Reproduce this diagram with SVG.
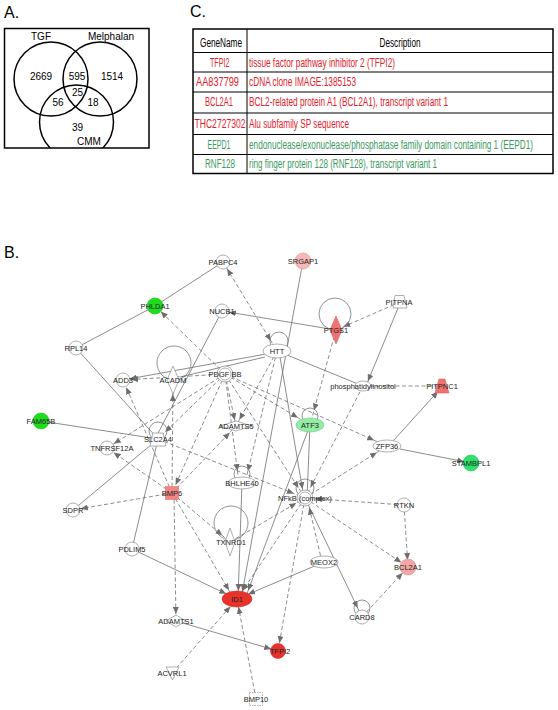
<svg xmlns="http://www.w3.org/2000/svg" width="558" height="710" viewBox="0 0 558 710">
<defs>
<style>
.pl{font-family:"Liberation Sans",Arial,sans-serif;font-size:16px;fill:#000}
.vt{font-family:"Liberation Sans",Arial,sans-serif;font-size:10px;fill:#000;text-anchor:middle}
.vc{fill:none;stroke:#000;stroke-width:1.5}
.th{font-family:"Liberation Sans",Arial,sans-serif;font-size:12px;fill:#000}
.tr{font-family:"Liberation Sans",Arial,sans-serif;font-size:12px;fill:#e4212b}
.tg{font-family:"Liberation Sans",Arial,sans-serif;font-size:12px;fill:#3a9a5c}
.tl{stroke:#000;stroke-width:1}
.s{stroke:#6e6e6e;stroke-width:0.8;fill:none}
.d{stroke:#6e6e6e;stroke-width:0.8;fill:none;stroke-dasharray:4,2.5}
.lp{fill:none;stroke:#777;stroke-width:0.8}
.n{fill:#fff;stroke:#9a9a9a;stroke-width:0.8}
.nl{font-family:"Liberation Sans",Arial,sans-serif;font-size:7.5px;fill:#222;text-anchor:middle}
</style>
<clipPath id="vbox"><rect x="4.5" y="28.5" width="144.5" height="119.5"/></clipPath>
<marker id="a5" markerUnits="userSpaceOnUse" markerWidth="7" markerHeight="6" refX="12" refY="3" orient="auto-start-reverse"><path d="M0,0L7,3L0,6z" fill="#6e6e6e"/></marker>
<marker id="a6" markerUnits="userSpaceOnUse" markerWidth="7" markerHeight="6" refX="13" refY="3" orient="auto-start-reverse"><path d="M0,0L7,3L0,6z" fill="#6e6e6e"/></marker>
<marker id="a7" markerUnits="userSpaceOnUse" markerWidth="7" markerHeight="6" refX="14" refY="3" orient="auto-start-reverse"><path d="M0,0L7,3L0,6z" fill="#6e6e6e"/></marker>
<marker id="a8" markerUnits="userSpaceOnUse" markerWidth="7" markerHeight="6" refX="15" refY="3" orient="auto-start-reverse"><path d="M0,0L7,3L0,6z" fill="#6e6e6e"/></marker>
<marker id="a9" markerUnits="userSpaceOnUse" markerWidth="7" markerHeight="6" refX="16" refY="3" orient="auto-start-reverse"><path d="M0,0L7,3L0,6z" fill="#6e6e6e"/></marker>
<marker id="a10" markerUnits="userSpaceOnUse" markerWidth="7" markerHeight="6" refX="17" refY="3" orient="auto-start-reverse"><path d="M0,0L7,3L0,6z" fill="#6e6e6e"/></marker>
<marker id="a12" markerUnits="userSpaceOnUse" markerWidth="7" markerHeight="6" refX="19" refY="3" orient="auto-start-reverse"><path d="M0,0L7,3L0,6z" fill="#6e6e6e"/></marker>
<marker id="a14" markerUnits="userSpaceOnUse" markerWidth="7" markerHeight="6" refX="21" refY="3" orient="auto-start-reverse"><path d="M0,0L7,3L0,6z" fill="#6e6e6e"/></marker>
<marker id="a15" markerUnits="userSpaceOnUse" markerWidth="7" markerHeight="6" refX="22" refY="3" orient="auto-start-reverse"><path d="M0,0L7,3L0,6z" fill="#6e6e6e"/></marker>
</defs>
<rect width="558" height="710" fill="#fff"/>

<!-- Panel A -->
<g id="panelA">
<text class="pl" x="4" y="18">A.</text>
<g clip-path="url(#vbox)">
<circle class="vc" cx="51" cy="79" r="37"/>
<circle class="vc" cx="100" cy="79" r="37"/>
<circle class="vc" cx="76.5" cy="122" r="37"/>
</g>
<rect x="4.5" y="28.5" width="144.5" height="119.5" fill="none" stroke="#000" stroke-width="1.5"/>
<text class="vt" x="41" y="40">TGF</text>
<text class="vt" x="111" y="40">Melphalan</text>
<text class="vt" x="41" y="80">2669</text>
<text class="vt" x="77" y="80">595</text>
<text class="vt" x="112" y="80">1514</text>
<text class="vt" x="77.5" y="96">25</text>
<text class="vt" x="58" y="106">56</text>
<text class="vt" x="93" y="106">18</text>
<text class="vt" x="77.5" y="131">39</text>
<text class="vt" x="89" y="145">CMM</text>
</g>

<!-- Panel C -->
<g id="panelC">
<text class="pl" x="190" y="17">C.</text>
<rect x="193" y="29" width="360" height="144.5" fill="none" stroke="#000" stroke-width="1.5"/>
<line class="tl" x1="247" y1="29" x2="247" y2="173.5"/>
<line class="tl" x1="193" y1="52.5" x2="553" y2="52.5"/>
<line class="tl" x1="193" y1="72" x2="553" y2="72"/>
<line class="tl" x1="193" y1="92" x2="553" y2="92"/>
<line class="tl" x1="193" y1="113" x2="553" y2="113"/>
<line class="tl" x1="193" y1="134.5" x2="553" y2="134.5"/>
<line class="tl" x1="193" y1="154.5" x2="553" y2="154.5"/>
<text class="th" x="200" y="46.5" textLength="42" lengthAdjust="spacingAndGlyphs">GeneName</text>
<text class="th" x="379.5" y="46.5" textLength="41" lengthAdjust="spacingAndGlyphs">Description</text>
<text class="tr" x="210" y="66.5" textLength="19.5" lengthAdjust="spacingAndGlyphs">TFPI2</text>
<text class="tr" x="249" y="66.5" textLength="146" lengthAdjust="spacingAndGlyphs">tissue factor pathway inhibitor 2 (TFPI2)</text>
<text class="tr" x="196" y="86" textLength="43" lengthAdjust="spacingAndGlyphs">AA837799</text>
<text class="tr" x="249" y="86" textLength="107" lengthAdjust="spacingAndGlyphs">cDNA clone IMAGE:1385153</text>
<text class="tr" x="205" y="106" textLength="28" lengthAdjust="spacingAndGlyphs">BCL2A1</text>
<text class="tr" x="249" y="106" textLength="199" lengthAdjust="spacingAndGlyphs">BCL2-related protein A1 (BCL2A1), transcript variant 1</text>
<text class="tr" x="194.5" y="128" textLength="51" lengthAdjust="spacingAndGlyphs">THC2727302</text>
<text class="tr" x="249" y="128" textLength="100" lengthAdjust="spacingAndGlyphs">Alu subfamily SP sequence</text>
<text class="tg" x="207.5" y="149" textLength="23" lengthAdjust="spacingAndGlyphs">EEPD1</text>
<text class="tg" x="249" y="149" textLength="284" lengthAdjust="spacingAndGlyphs">endonuclease/exonuclease/phosphatase family domain containing 1 (EEPD1)</text>
<text class="tg" x="205" y="168" textLength="30" lengthAdjust="spacingAndGlyphs">RNF128</text>
<text class="tg" x="249" y="168" textLength="188" lengthAdjust="spacingAndGlyphs">ring finger protein 128 (RNF128), transcript variant 1</text>
</g>

<text class="pl" x="4" y="258">B.</text>

<!-- Connectors -->
<g id="connectors">
<line class="s" x1="223" y1="262" x2="155" y2="306"/>
<line class="s" x1="155" y1="306" x2="76" y2="348"/>
<line class="s" x1="76" y1="348" x2="158" y2="439"/>
<line class="s" x1="222" y1="311" x2="156" y2="437"/>
<line class="s" x1="336" y1="330" x2="222" y2="311" marker-end="url(#a7)"/>
<line class="s" x1="303" y1="261" x2="241" y2="599" marker-end="url(#a8)"/>
<line class="s" x1="266" y1="354" x2="123" y2="380" marker-end="url(#a7)"/>
<line class="s" x1="265" y1="357" x2="180" y2="377"/>
<line class="s" x1="287" y1="355" x2="363" y2="386"/>
<line class="s" x1="280" y1="357" x2="304" y2="498" marker-end="url(#a9)"/>
<line class="s" x1="398" y1="308" x2="366" y2="386" marker-end="url(#a5)"/>
<line class="s" x1="393" y1="441" x2="442" y2="387" marker-end="url(#a6)"/>
<line class="s" x1="400" y1="449" x2="471" y2="463" marker-end="url(#a7)"/>
<line class="s" x1="41" y1="421" x2="158" y2="439"/>
<line class="s" x1="158" y1="439" x2="73" y2="510"/>
<line class="s" x1="158" y1="439" x2="132" y2="549"/>
<line class="s" x1="132" y1="549" x2="237" y2="599" marker-end="url(#a12)"/>
<line class="s" x1="310" y1="425" x2="307" y2="498"/>
<line class="s" x1="310" y1="425" x2="245" y2="599" marker-end="url(#a9)"/>
<line class="s" x1="242" y1="483" x2="238" y2="599" marker-end="url(#a8)"/>
<line class="s" x1="324" y1="562" x2="237" y2="599" marker-end="url(#a12)"/>
<line class="s" x1="176" y1="621" x2="278" y2="651" marker-end="url(#a7)"/>
<line class="s" x1="305" y1="498" x2="362" y2="617" marker-end="url(#a10)"/>

<line class="d" x1="223" y1="262" x2="277" y2="351" marker-start="url(#a8)" marker-end="url(#a12)"/>
<line class="d" x1="225" y1="374" x2="155" y2="306" marker-end="url(#a8)"/>
<line class="d" x1="225" y1="374" x2="123" y2="380" marker-end="url(#a8)"/>
<line class="d" x1="336" y1="330" x2="310" y2="425" marker-end="url(#a15)"/>
<line class="d" x1="400" y1="302" x2="336" y2="330" marker-end="url(#a8)"/>
<line class="d" x1="363" y1="386" x2="442" y2="386"/>
<line class="d" x1="363" y1="386" x2="305" y2="498" marker-end="url(#a12)"/>
<line class="d" x1="225" y1="374" x2="310" y2="425" marker-end="url(#a14)"/>
<line class="d" x1="225" y1="374" x2="387" y2="446" marker-end="url(#a14)"/>
<line class="d" x1="225" y1="374" x2="158" y2="439" marker-end="url(#a10)"/>
<line class="d" x1="225" y1="374" x2="172" y2="493" marker-end="url(#a9)"/>
<line class="d" x1="225" y1="374" x2="107" y2="448" marker-end="url(#a8)"/>
<line class="d" x1="225" y1="374" x2="236" y2="426" marker-end="url(#a6)"/>
<line class="d" x1="225" y1="374" x2="239" y2="483" marker-end="url(#a12)"/>
<line class="d" x1="225" y1="374" x2="305" y2="498" marker-end="url(#a12)"/>
<line class="d" x1="277" y1="351" x2="236" y2="426" marker-end="url(#a7)"/>
<line class="d" x1="277" y1="351" x2="245" y2="483" marker-end="url(#a12)"/>
<line class="d" x1="172" y1="493" x2="173" y2="380" marker-end="url(#a14)"/>
<line class="d" x1="174" y1="493" x2="176" y2="621" marker-end="url(#a7)"/>
<line class="d" x1="172" y1="493" x2="236" y2="426" marker-end="url(#a9)"/>
<line class="d" x1="172" y1="493" x2="107" y2="448" marker-end="url(#a8)"/>
<line class="d" x1="172" y1="493" x2="73" y2="510" marker-end="url(#a8)"/>
<line class="d" x1="172" y1="493" x2="230" y2="542" marker-end="url(#a10)"/>
<line class="d" x1="172" y1="493" x2="234" y2="599" marker-end="url(#a10)"/>
<line class="d" x1="172" y1="493" x2="123" y2="380" marker-end="url(#a8)"/>
<line class="d" x1="158" y1="439" x2="305" y2="498" marker-end="url(#a12)"/>
<line class="d" x1="305" y1="498" x2="387" y2="446" marker-end="url(#a12)"/>
<line class="d" x1="404" y1="505" x2="305" y2="498" marker-end="url(#a10)"/>
<line class="d" x1="404" y1="505" x2="408" y2="567" marker-end="url(#a7)"/>
<line class="d" x1="305" y1="498" x2="408" y2="567" marker-end="url(#a8)"/>
<line class="d" x1="305" y1="498" x2="278" y2="651" marker-end="url(#a8)"/>
<line class="d" x1="305" y1="498" x2="237" y2="599" marker-end="url(#a10)"/>
<line class="d" x1="322" y1="562" x2="307" y2="498" marker-end="url(#a10)"/>
<line class="d" x1="230" y1="542" x2="305" y2="498" marker-end="url(#a10)"/>
<line class="d" x1="362" y1="617" x2="408" y2="567" marker-end="url(#a8)"/>
<line class="d" x1="172" y1="673" x2="237" y2="599" marker-end="url(#a10)"/>
<line class="d" x1="256" y1="699" x2="237" y2="599" marker-end="url(#a8)"/>

<circle class="lp" cx="279" cy="341" r="9"/>
<circle class="lp" cx="335" cy="314" r="16"/>
<circle class="lp" cx="174" cy="363" r="17"/>
<circle class="lp" cx="158" cy="431" r="9"/>
<circle class="lp" cx="310" cy="416" r="8"/>
<circle class="lp" cx="242" cy="474" r="8"/>
<circle class="lp" cx="305" cy="488" r="9"/>
<circle class="lp" cx="231" cy="523" r="17"/>
<circle class="lp" cx="362" cy="608" r="8"/>
</g>

<!-- Nodes -->
<g id="PABPC4"><circle class="n" cx="223" cy="262" r="7"/><text class="nl" x="223" y="264.7">PABPC4</text></g>
<g id="SRGAP1"><circle cx="303" cy="261" r="8" fill="#f5b7b7" stroke="#e9a0a0" stroke-width="0.6"/><text class="nl" x="303" y="263.7">SRGAP1</text></g>
<g id="PHLDA1"><circle cx="155" cy="306" r="8" fill="#1edc1e" stroke="#1ac81a" stroke-width="0.6"/><text class="nl" x="155" y="308.7">PHLDA1</text></g>
<g id="NUCB1"><circle class="n" cx="222" cy="311" r="7"/><text class="nl" x="222" y="313.7">NUCB1</text></g>
<g id="PITPNA"><path class="n" d="M395,295.5H404L407,308H393Z"/><text class="nl" x="399" y="304.7">PITPNA</text></g>
<g id="PTGS1"><path d="M336,316L342,330L336,344L330,330Z" fill="#f07272" stroke="#e06060" stroke-width="0.6"/><text class="nl" x="336" y="332.7">PTGS1</text></g>
<g id="RPL14"><circle class="n" cx="76" cy="348" r="7"/><text class="nl" x="76" y="350.7">RPL14</text></g>
<g id="HTT"><ellipse class="n" cx="277" cy="351" rx="14" ry="7"/><text class="nl" x="277" y="353.7">HTT</text></g>
<g id="ADD3"><circle class="n" cx="123" cy="380" r="7"/><text class="nl" x="123" y="382.7">ADD3</text></g>
<g id="ACADM"><path class="n" d="M173,366L179,380L173,394L167,380Z"/><text class="nl" x="173" y="382.7">ACADM</text></g>
<g id="PDGFBB"><circle class="n" cx="225" cy="374" r="8"/><circle class="n" cx="225" cy="374" r="6"/><text class="nl" x="225" y="376.7">PDGF BB</text></g>
<g id="phosphatidylinositol"><ellipse class="n" cx="363" cy="386" rx="8" ry="5"/><text class="nl" x="363" y="388.7">phosphatidylinositol</text></g>
<g id="PITPNC1"><path d="M439,379H445L449,393H435Z" fill="#f07272" stroke="#e06060" stroke-width="0.6"/><text class="nl" x="442" y="388.7">PITPNC1</text></g>
<g id="FAM65B"><circle cx="41" cy="421" r="8" fill="#1edc1e" stroke="#1ac81a" stroke-width="0.6"/><text class="nl" x="41" y="423.7">FAM65B</text></g>
<g id="ADAMTS5"><path class="n" d="M220,426L236,421L252,426L236,431Z"/><text class="nl" x="236" y="428.7">ADAMTS5</text></g>
<g id="ATF3"><ellipse cx="310" cy="425" rx="14" ry="7" fill="#93eca4" stroke="#6fcf88" stroke-width="0.6"/><text class="nl" x="310" y="427.7">ATF3</text></g>
<g id="SLC2A4"><path class="n" d="M153,433H163L166,446H150Z"/><text class="nl" x="158" y="441.7">SLC2A4</text></g>
<g id="ZFP36"><ellipse class="n" cx="387" cy="446" rx="14" ry="6"/><text class="nl" x="387" y="448.7">ZFP36</text></g>
<g id="TNFRSF12A"><circle class="n" cx="107" cy="448" r="7"/><text class="nl" x="112" y="450.7">TNFRSF12A</text></g>
<g id="STAMBPL1"><circle cx="471" cy="463" r="8" fill="#2ee06b" stroke="#25c85e" stroke-width="0.6"/><text class="nl" x="471" y="465.7">STAMBPL1</text></g>
<g id="BHLHE40"><ellipse class="n" cx="242" cy="483" rx="14" ry="6"/><text class="nl" x="242" y="485.7">BHLHE40</text></g>
<g id="BMP6"><rect x="165.5" y="486.5" width="13" height="13" fill="#f38585" stroke="#e87070" stroke-width="0.6"/><text class="nl" x="172" y="495.7">BMP6</text></g>
<g id="NFkB"><circle class="n" cx="305" cy="498" r="8"/><circle class="n" cx="305" cy="498" r="6"/><text class="nl" x="305" y="500.7">NFkB (complex)</text></g>
<g id="SDPR"><circle class="n" cx="73" cy="510" r="7"/><text class="nl" x="73" y="512.7">SDPR</text></g>
<g id="RTKN"><circle class="n" cx="404" cy="505" r="7"/><text class="nl" x="404" y="507.7">RTKN</text></g>
<g id="TXNRD1"><path class="n" d="M230,528L235,542L230,556L225,542Z"/><text class="nl" x="231" y="544.7">TXNRD1</text></g>
<g id="PDLIM5"><circle class="n" cx="132" cy="549" r="7"/><text class="nl" x="132" y="551.7">PDLIM5</text></g>
<g id="MEOX2"><ellipse class="n" cx="324" cy="562" rx="14" ry="6"/><text class="nl" x="324" y="564.7">MEOX2</text></g>
<g id="BCL2A1"><circle cx="408" cy="567" r="8" fill="#f2a6a6" stroke="#e69494" stroke-width="0.6"/><text class="nl" x="408" y="569.7">BCL2A1</text></g>
<g id="ID1"><ellipse cx="237" cy="599" rx="15" ry="8" fill="#e8332c" stroke="#d42a24" stroke-width="0.6"/><text class="nl" x="237" y="601.7">ID1</text></g>
<g id="CARD8"><circle class="n" cx="362" cy="617" r="7"/><text class="nl" x="362" y="619.7">CARD8</text></g>
<g id="ADAMTS1"><path class="n" d="M166,621L176,615L186,621L176,627Z"/><text class="nl" x="176" y="623.7">ADAMTS1</text></g>
<g id="TFPI2"><circle cx="278" cy="651" r="7.5" fill="#e8332c" stroke="#d42a24" stroke-width="0.6"/><text class="nl" x="280" y="653.7">TFPI2</text></g>
<g id="ACVRL1"><path class="n" d="M166,667H179L172.5,680Z"/><text class="nl" x="172" y="675.7">ACVRL1</text></g>
<g id="BMP10"><rect x="249.5" y="692.5" width="13" height="13" fill="#fff" stroke="#9a9a9a" stroke-width="0.8" stroke-dasharray="1.5,1"/><text class="nl" x="256" y="701.7">BMP10</text></g>
</svg>
